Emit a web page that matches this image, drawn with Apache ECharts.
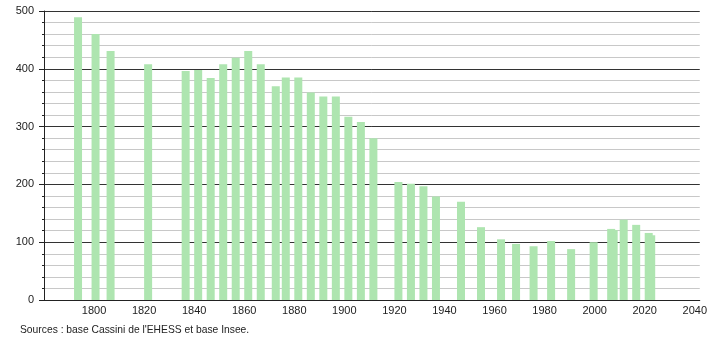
<!DOCTYPE html>
<html>
<head>
<meta charset="utf-8">
<script src="https://cdn.jsdelivr.net/npm/echarts@6/dist/echarts.min.js"></script>
<style>
html,body{margin:0;padding:0;background:#fff;}
#chart{width:710px;height:340px;}
</style>
</head>
<body>
<div id="chart"></div>
<script>
var years = [1793,1800,1806,1821,1836,1841,1846,1851,1856,1861,1866,1872,1876,1881,1886,1891,1896,1901,1906,1911,1921,1926,1931,1936,1946,1954,1962,1968,1975,1982,1990,1999,2006,2007,2011,2016,2021,2022];
var population = [489,460,431,408,396,398,384,408,419,431,408,370,385,385,359,352,352,317,308,280,204,201,197,179,170,126,105,97,93,102,88,100,123,121,139,130,116,112];
var sourceText = "Sources : base Cassini de l'EHESS et base Insee.";

var data = years.map(function(y, i){ return [y, population[i]]; });
var font = "'Liberation Sans', Arial, sans-serif";

var chart = echarts.init(document.getElementById('chart'));
chart.setOption({
  animation: false,
  grid: {left: 44, top: 11, right: 9, bottom: 40},
  xAxis: [{
    type: 'value', min: 1780, max: 2042, interval: 20,
    axisLine: {show: true, lineStyle: {color: '#222', width: 1}},
    axisTick: {show: false},
    splitLine: {show: false},
    axisLabel: {
      color: '#222', fontSize: 11, fontFamily: font, margin: 5,
      showMinLabel: false, showMaxLabel: false,
      formatter: function(v){ return (v % 20 === 0 && v > 1780) ? String(v) : ''; }
    }
  }, {
    type: 'value', min: 1779.4, max: 2041.4, show: false
  }],
  yAxis: {
    type: 'value', min: 0, max: 500, interval: 100,
    axisLine: {show: true, lineStyle: {color: '#222', width: 1}},
    axisTick: {show: true, length: 5, lineStyle: {color: '#222'}},
    minorTick: {show: true, splitNumber: 5, length: 2, lineStyle: {color: '#222'}},
    splitLine: {show: true, lineStyle: {color: '#333', width: 1}},
    minorSplitLine: {show: true, lineStyle: {color: '#c8c8c8', width: 1}},
    axisLabel: {color: '#222', fontSize: 11, fontFamily: font, margin: 10}
  },
  series: [{
    type: 'bar',
    xAxisIndex: 1,
    data: data,
    barWidth: 8,
    itemStyle: {color: '#aee5b0'},
    z: 3
  }],
  graphic: [{
    type: 'text', left: 20, top: 325,
    style: {text: sourceText, fill: '#222', font: '10.3px ' + font}
  }]
});
</script>
</body>
</html>
